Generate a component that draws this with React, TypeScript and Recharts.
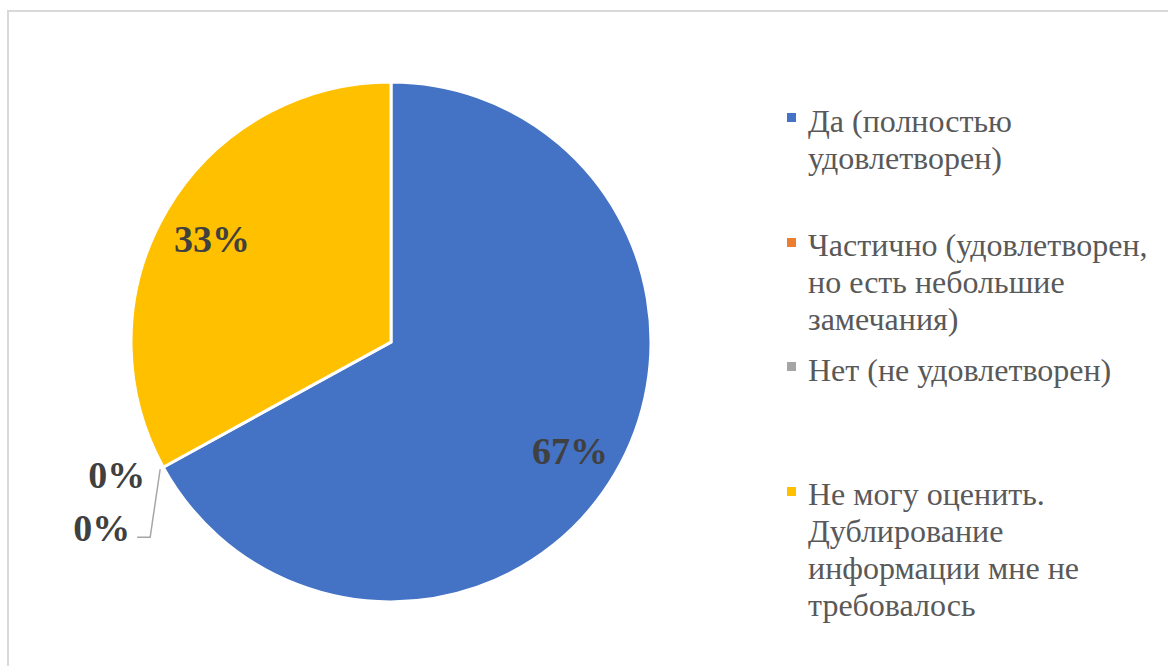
import { PieChart, Pie, Cell, Legend } from 'recharts'

const categories = [
  'Да (полностью удовлетворен)',
  'Частично (удовлетворен, но есть небольшие замечания)',
  'Нет (не удовлетворен)',
  'Не могу оценить. Дублирование информации мне не требовалось',
]
const legendLines = [
  ['Да (полностью', 'удовлетворен)'],
  ['Частично (удовлетворен,', 'но есть небольшие', 'замечания)'],
  ['Нет (не удовлетворен)'],
  ['Не могу оценить.', 'Дублирование', 'информации мне не', 'требовалось'],
]
const shares = [67, 0, 0, 33]
const colors = ['#4472C4', '#ED7D31', '#A5A5A5', '#FFC000']

const RAD = Math.PI / 180
const FONT = 'Liberation Serif'

const data = categories.map((name, i) => ({ name, value: shares[i] }))

function renderLabel(props: any) {
  const { cx, cy, midAngle, outerRadius, percent, index } = props
  const text = `${Math.round(percent * 100)}%`
  const ex = cx + outerRadius * Math.cos(-midAngle * RAD)
  const ey = cy + outerRadius * Math.sin(-midAngle * RAD)
  const common = {
    fontFamily: FONT,
    fontWeight: 700,
    fontSize: 38,
    fill: '#404040',
    dominantBaseline: 'central' as const,
  }
  if (percent > 0) {
    const r = outerRadius * 0.8
    const x = cx + r * Math.cos(-midAngle * RAD)
    const y = cy + r * Math.sin(-midAngle * RAD) + 3
    return (
      <text key={index} x={x} y={y} textAnchor="middle" {...common}>
        {text}
      </text>
    )
  }
  if (index === 1) {
    return (
      <text key={index} x={ex - 18} y={ey + 8} textAnchor="end" {...common}>
        {text}
      </text>
    )
  }
  return (
    <g key={index}>
      <polyline
        points={`${ex - 3},${ey + 2} ${ex - 13},${ey + 70} ${ex - 26},${ey + 70}`}
        fill="none"
        stroke="#A6A6A6"
        strokeWidth={1.5}
      />
      <text x={ex - 33} y={ey + 61} textAnchor="end" {...common}>
        {text}
      </text>
    </g>
  )
}

function renderLegend() {
  return (
    <div style={{ fontFamily: FONT, fontSize: 32, color: '#595959', textAlign: 'left' }}>
      {legendLines.map((lines, i) => (
        <div key={i} style={{ position: 'relative', height: 124.5, paddingLeft: 21 }}>
          <span
            style={{
              position: 'absolute',
              left: 0,
              top: 10.5,
              width: 9,
              height: 9,
              background: colors[i],
            }}
          />
          {lines.map((l, j) => (
            <div key={j} style={{ lineHeight: '37px', whiteSpace: 'nowrap' }}>
              {l}
            </div>
          ))}
        </div>
      ))}
    </div>
  )
}

export default function App() {
  return (
    <div style={{ position: 'absolute', left: 0, top: 0, width: 1168, height: 666, overflow: 'hidden', background: '#fff', fontFamily: FONT }}>
      <div
        style={{
          position: 'absolute',
          left: 7,
          top: 10,
          width: 1200,
          height: 700,
          border: '2px solid #D9D9D9',
        }}
      />
      <div style={{ position: 'absolute', left: 0, top: 0 }}>
        <PieChart width={1168} height={666} margin={{ top: 0, right: 0, bottom: 0, left: 0 }}>
          <Pie
            data={data}
            dataKey="value"
            nameKey="name"
            cx={391}
            cy={342}
            outerRadius={260}
            startAngle={90}
            endAngle={-270}
            stroke="#FFFFFF"
            strokeWidth={3}
            label={renderLabel}
            labelLine={false}
            isAnimationActive={false}
          >
            {data.map((d, i) => (
              <Cell key={d.name} fill={colors[i]} />
            ))}
          </Pie>
          <Legend
            layout="vertical"
            align="right"
            verticalAlign="top"
            content={renderLegend}
            wrapperStyle={{ left: 787, top: 102.5, width: 375 }}
          />
        </PieChart>
      </div>
    </div>
  )
}
